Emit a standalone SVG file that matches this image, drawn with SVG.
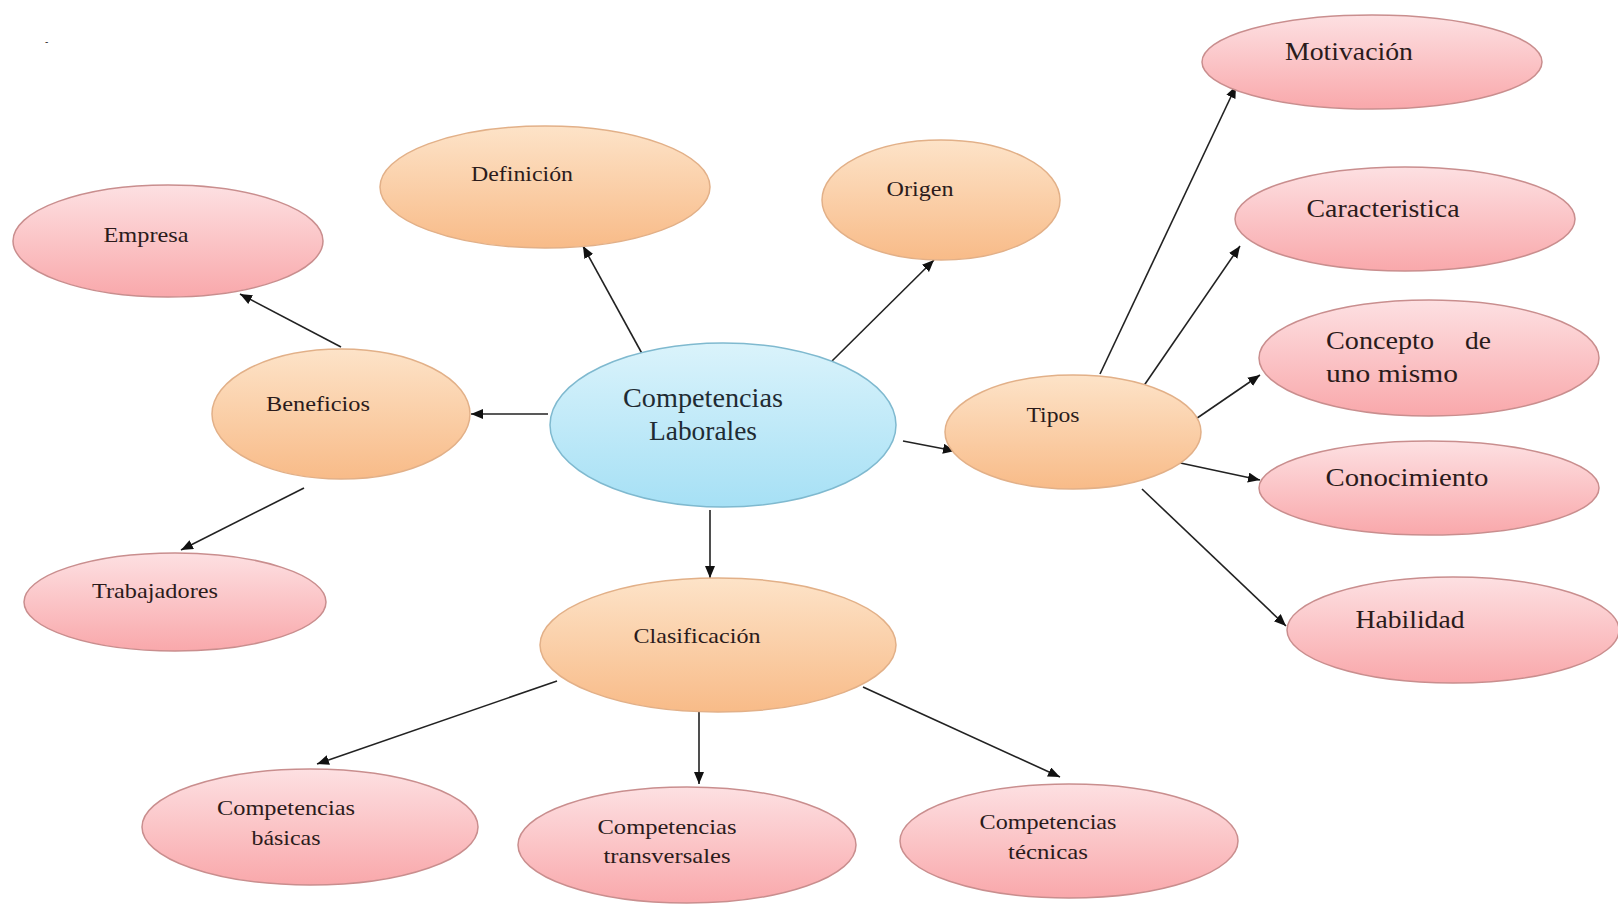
<svg xmlns="http://www.w3.org/2000/svg" width="1618" height="904" viewBox="0 0 1618 904">
<style>
.t{font-family:"Liberation Serif","Times New Roman",serif;fill:#2b1b1b;text-anchor:middle}
.s{font-size:22px}
.m{font-size:25px}
.b{font-size:27px;fill:#1f2b33}
.pink{fill:url(#gp);stroke:#c98e8e;stroke-width:1.5}
.orange{fill:url(#go);stroke:#e2b088;stroke-width:1.5}
.blue{fill:url(#gb);stroke:#7fb9cf;stroke-width:1.5}
.c{stroke:#222;stroke-width:1.6;fill:none;marker-end:url(#ah)}
</style>
<defs>
<linearGradient id="gp" x1="0" y1="0" x2="0" y2="1"><stop offset="0" stop-color="#fde0e2"/><stop offset="1" stop-color="#f9a8ab"/></linearGradient>
<linearGradient id="go" x1="0" y1="0" x2="0" y2="1"><stop offset="0" stop-color="#fde3c8"/><stop offset="1" stop-color="#f8bb88"/></linearGradient>
<linearGradient id="gb" x1="0" y1="0" x2="0" y2="1"><stop offset="0" stop-color="#daf3fb"/><stop offset="1" stop-color="#a6e0f5"/></linearGradient>
<marker id="ah" markerUnits="userSpaceOnUse" markerWidth="14" markerHeight="12" refX="12" refY="5" orient="auto"><path d="M0,0 L12,5 L0,10 z" fill="#111"/></marker>
</defs>
<rect width="1618" height="904" fill="#fff"/>
<text x="45" y="45" style="font-family:'Liberation Sans',sans-serif;font-size:10px;fill:#333">-</text>
<g id="connectors">
<line class="c" x1="645" y1="359" x2="583" y2="246"/>
<line class="c" x1="832" y1="361" x2="934" y2="260"/>
<line class="c" x1="548" y1="414" x2="471" y2="414"/>
<line class="c" x1="341" y1="347" x2="240" y2="294"/>
<line class="c" x1="304" y1="488" x2="181" y2="550"/>
<line class="c" x1="710" y1="510" x2="710" y2="578"/>
<line class="c" x1="903" y1="441" x2="955" y2="451"/>
<line class="c" x1="1100" y1="374" x2="1236" y2="86"/>
<line class="c" x1="1143" y1="387" x2="1240" y2="246"/>
<line class="c" x1="1187" y1="425" x2="1260" y2="375"/>
<line class="c" x1="1171" y1="461" x2="1260" y2="480"/>
<line class="c" x1="1142" y1="489" x2="1286" y2="626"/>
<line class="c" x1="557" y1="681" x2="317" y2="764"/>
<line class="c" x1="699" y1="712" x2="699" y2="784"/>
<line class="c" x1="863" y1="687" x2="1060" y2="777"/>
</g>
<g id="n-center"><ellipse class="blue" cx="723" cy="425" rx="173" ry="82"/>
<text class="t b" x="703" y="407" textLength="160" lengthAdjust="spacingAndGlyphs">Competencias</text>
<text class="t b" x="703" y="440" textLength="108" lengthAdjust="spacingAndGlyphs">Laborales</text></g>
<g id="n-definicion"><ellipse class="orange" cx="545" cy="187" rx="165" ry="61"/>
<text class="t s" x="522" y="181" textLength="102" lengthAdjust="spacingAndGlyphs">Definición</text></g>
<g id="n-origen"><ellipse class="orange" cx="941" cy="200" rx="119" ry="60"/>
<text class="t s" x="920" y="196" textLength="67" lengthAdjust="spacingAndGlyphs">Origen</text></g>
<g id="n-empresa"><ellipse class="pink" cx="168" cy="241" rx="155" ry="56"/>
<text class="t s" x="146" y="242" textLength="85" lengthAdjust="spacingAndGlyphs">Empresa</text></g>
<g id="n-beneficios"><ellipse class="orange" cx="341" cy="414" rx="129" ry="65"/>
<text class="t s" x="318" y="411" textLength="104" lengthAdjust="spacingAndGlyphs">Beneficios</text></g>
<g id="n-trabajadores"><ellipse class="pink" cx="175" cy="602" rx="151" ry="49"/>
<text class="t s" x="155" y="598" textLength="126" lengthAdjust="spacingAndGlyphs">Trabajadores</text></g>
<g id="n-clasificacion"><ellipse class="orange" cx="718" cy="645" rx="178" ry="67"/>
<text class="t s" x="697" y="643" textLength="127" lengthAdjust="spacingAndGlyphs">Clasificación</text></g>
<g id="n-tipos"><ellipse class="orange" cx="1073" cy="432" rx="128" ry="57"/>
<text class="t s" x="1053" y="422" textLength="53" lengthAdjust="spacingAndGlyphs">Tipos</text></g>
<g id="n-motivacion"><ellipse class="pink" cx="1372" cy="62" rx="170" ry="47"/>
<text class="t m" x="1349" y="60" textLength="128" lengthAdjust="spacingAndGlyphs">Motivación</text></g>
<g id="n-caracteristica"><ellipse class="pink" cx="1405" cy="219" rx="170" ry="52"/>
<text class="t m" x="1383" y="217" textLength="153" lengthAdjust="spacingAndGlyphs">Caracteristica</text></g>
<g id="n-concepto"><ellipse class="pink" cx="1429" cy="358" rx="170" ry="58"/>
<text class="t m" x="1380" y="349" textLength="108" lengthAdjust="spacingAndGlyphs">Concepto</text>
<text class="t m" x="1478" y="349" textLength="26" lengthAdjust="spacingAndGlyphs">de</text>
<text class="t m" x="1392" y="382" textLength="132" lengthAdjust="spacingAndGlyphs">uno mismo</text></g>
<g id="n-conocimiento"><ellipse class="pink" cx="1429" cy="488" rx="170" ry="47"/>
<text class="t m" x="1407" y="486" textLength="163" lengthAdjust="spacingAndGlyphs">Conocimiento</text></g>
<g id="n-habilidad"><ellipse class="pink" cx="1453" cy="630" rx="166" ry="53"/>
<text class="t m" x="1410" y="628" textLength="109" lengthAdjust="spacingAndGlyphs">Habilidad</text></g>
<g id="n-basicas"><ellipse class="pink" cx="310" cy="827" rx="168" ry="58"/>
<text class="t s" x="286" y="815" textLength="138" lengthAdjust="spacingAndGlyphs">Competencias</text>
<text class="t s" x="286" y="845" textLength="69" lengthAdjust="spacingAndGlyphs">básicas</text></g>
<g id="n-transversales"><ellipse class="pink" cx="687" cy="845" rx="169" ry="58"/>
<text class="t s" x="667" y="834" textLength="139" lengthAdjust="spacingAndGlyphs">Competencias</text>
<text class="t s" x="667" y="863" textLength="127" lengthAdjust="spacingAndGlyphs">transversales</text></g>
<g id="n-tecnicas"><ellipse class="pink" cx="1069" cy="841" rx="169" ry="57"/>
<text class="t s" x="1048" y="829" textLength="137" lengthAdjust="spacingAndGlyphs">Competencias</text>
<text class="t s" x="1048" y="859" textLength="80" lengthAdjust="spacingAndGlyphs">técnicas</text></g>
</svg>
